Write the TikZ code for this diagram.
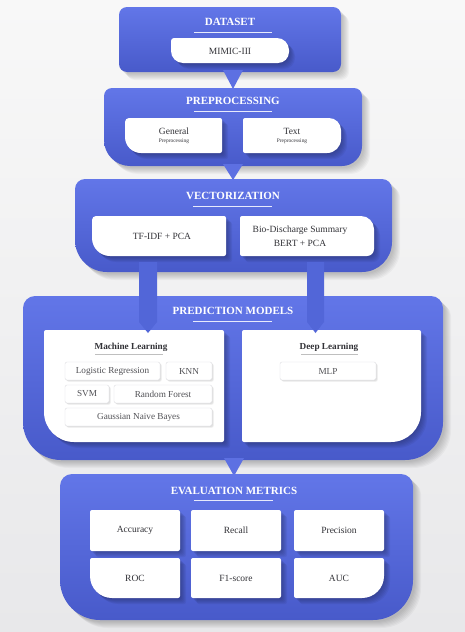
\documentclass[tikz,border=0pt]{standalone}
\usepackage{fontspec}
\setmainfont{Liberation Serif}
\definecolor{bgA}{RGB}{248,248,248}
\definecolor{bgB}{RGB}{232,232,234}
\definecolor{blueT}{RGB}{98,118,232}
\definecolor{blueB}{RGB}{72,90,202}
\definecolor{bar}{RGB}{82,102,216}
\definecolor{txt}{RGB}{50,50,55}
\definecolor{edge}{RGB}{222,222,226}
% #1 style, #2 x1, #3 y1, #4 x2, #5 y2, #6 rTL, #7 rTR, #8 rBR, #9 rBL
\newcommand\rshape[9]{%
  \path[#1] ({#2+#6},{#3}) -- ({#4-#7},{#3})
    .. controls ({#4-0.448*#7},{#3}) and ({#4},{#3+0.448*#7}) .. ({#4},{#3+#7})
    -- ({#4},{#5-#8})
    .. controls ({#4},{#5-0.448*#8}) and ({#4-0.448*#8},{#5}) .. ({#4-#8},{#5})
    -- ({#2+#9},{#5})
    .. controls ({#2+0.448*#9},{#5}) and ({#2},{#5-0.448*#9}) .. ({#2},{#5-#9})
    -- ({#2},{#3+#6})
    .. controls ({#2},{#3+0.448*#6}) and ({#2+0.448*#6},{#3}) .. cycle;}
\newcommand\shpanel[8]{%
  \foreach \k in {1,...,7}{%
    \rshape{fill=black, fill opacity=0.03, shift={(\k+1,\k+1)}}{#1}{#2}{#3}{#4}{#5}{#6}{#7}{#8}}%
  \rshape{panel}{#1}{#2}{#3}{#4}{#5}{#6}{#7}{#8}}
\newcommand\shcard[8]{%
  \foreach \k in {1,...,6}{%
    \rshape{fill=black!70!blueB, fill opacity=0.07, shift={(\k,\k)}}{#1}{#2}{#3}{#4}{#5}{#6}{#7}{#8}}%
  \rshape{card}{#1}{#2}{#3}{#4}{#5}{#6}{#7}{#8}}
\newcommand\shchip[4]{%
  \foreach \k in {0.6,1.2,1.8}{%
    \rshape{fill=black, fill opacity=0.05, shift={(\k,\k)}}{#1}{#2}{#3}{#4}{2}{2}{2}{2}}%
  \rshape{chip}{#1}{#2}{#3}{#4}{2}{2}{2}{2}}
\tikzset{
  panel/.style={top color=blueT, bottom color=blueB},
  card/.style={fill=white},
  chip/.style={fill=white, draw=edge, line width=0.4pt},
  title/.style={text=white, font=\fontsize{11}{12}\selectfont\bfseries},
  uline/.style={draw=white!85!blueT, line width=0.9pt},
  label/.style={text=txt, font=\fontsize{9.5}{10}\selectfont, align=center},
  small/.style={text=txt, font=\fontsize{5.4}{6}\selectfont},
  sub/.style={text=txt, font=\fontsize{9.2}{10}\selectfont\bfseries},
  subline/.style={draw=gray!50, line width=0.6pt},
  chiptxt/.style={text=txt!85!white, font=\fontsize{9.2}{10}\selectfont},
  arrowfill/.style={fill=blueT!80!blueB},
  barfill/.style={fill=bar},
}
\begin{document}
\begin{tikzpicture}[x=1pt,y=-1pt]
\useasboundingbox (0,0) rectangle (465,632);
\fill[top color=bgA, bottom color=bgB] (0,0) rectangle (465,632);

% ---------- connector coordinates ----------
\coordinate (t1a) at (223,70); \coordinate (t1b) at (243,70); \coordinate (t1c) at (233,89);
\coordinate (t2a) at (223,164); \coordinate (t2b) at (243,164); \coordinate (t2c) at (233,180);
\coordinate (t3a) at (224,458); \coordinate (t3b) at (244,458); \coordinate (t3c) at (234,476);
\coordinate (b1top) at (139,262); \coordinate (b1tip) at (148,333);
\coordinate (b2top) at (307,262); \coordinate (b2tip) at (315.5,333);

% ---------- panels ----------
\shpanel{119}{7}{341}{72}{8}{8}{8}{8}
\fill[arrowfill] (t1a) -- (t1b) -- (t1c) -- cycle;
\shpanel{104}{88}{362}{166}{8}{8}{20}{26}
\fill[arrowfill] (t2a) -- (t2b) -- (t2c) -- cycle;
\shpanel{75}{179}{392}{272}{10}{10}{30}{32}
\shpanel{23}{296}{443}{460}{12}{12}{38}{38}
\fill[arrowfill] (t3a) -- (t3b) -- (t3c) -- cycle;
\shpanel{60}{474}{413}{620}{12}{12}{40}{40}

% ---------- cards ----------
\shcard{171}{38}{289}{63}{3}{12}{11}{12}
\shcard{125}{118}{222}{153}{4}{2}{2}{16}
\shcard{243}{118}{341}{153}{2}{12}{14}{2}
\shcard{92}{216}{226}{256}{4}{2}{2}{18}
\shcard{240}{216}{374}{256}{2}{13}{7}{2}
\shcard{44}{330}{224}{442}{2}{2}{2}{30}
\shcard{242}{330}{421}{442}{2}{2}{30}{2}
% metrics
\shcard{90}{510}{180}{551}{2}{2}{2}{2}
\shcard{191}{510}{281}{551}{2}{2}{2}{2}
\shcard{294}{510}{384}{551}{2}{2}{2}{2}
\shcard{90}{558}{180}{598}{2}{2}{2}{22}
\shcard{191}{558}{281}{598}{2}{2}{2}{2}
\shcard{294}{558}{384}{598}{2}{2}{22}{2}

% bars from vectorization to prediction (drawn over the cards)
\fill[barfill] (b1top) -- (157,262) -- (157,322) -- (b1tip) -- (139,322) -- cycle;
\fill[barfill] (b2top) -- (324,262) -- (324,322) -- (b2tip) -- (307,322) -- cycle;

% chips
\shchip{65}{362}{160}{380}
\shchip{166}{362}{212}{380}
\shchip{65}{385}{109}{403}
\shchip{114}{385}{212}{403}
\shchip{65}{408}{212}{426}
\shchip{280}{362}{376}{380}

% ---------- titles ----------
\node[title] (tDS) at (230,22) {DATASET};
\draw[uline] (194,32) -- (272,32);
\node[title] (tPP) at (233,101) {PREPROCESSING};
\draw[uline] (194,111) -- (272,111);
\node[title] (tVC) at (233,196) {VECTORIZATION};
\draw[uline] (193,206) -- (272,206);
\node[title] (tPM) at (233,311) {PREDICTION MODELS};
\draw[uline] (193,321) -- (272,321);
\node[title] (tEM) at (234,491) {EVALUATION METRICS};
\draw[uline] (194,500) -- (273,500);

% ---------- card texts ----------
\node[label] (mimic) at (230,51) {MIMIC-III};
\node[label, inner sep=0pt] (gen) at (174,131) {General};
\node[small, inner sep=0pt] (genp) at (174,141) {Preprocessing};
\node[label, inner sep=0pt] (txt) at (292,131) {Text};
\node[small, inner sep=0pt] (txtp) at (292,141) {Preprocessing};
\node[label] (tfidf) at (162,236) {TF-IDF + PCA};
\node[label, inner sep=0pt] (bio1) at (300,230) {Bio-Discharge Summary};
\node[label, inner sep=0pt] (bio2) at (300,243) {BERT + PCA};

\node[sub] (ml) at (131,347) {Machine Learning};
\draw[subline] (95,354) -- (163,354);
\node[sub] (dl) at (329,347) {Deep Learning};
\draw[subline] (301,354) -- (358,354);

\node[chiptxt] (lr) at (112.5,371) {Logistic Regression};
\node[chiptxt] (knn) at (189,371) {KNN};
\node[chiptxt] (svm) at (87,394) {SVM};
\node[chiptxt] (rf) at (163,394) {Random Forest};
\node[chiptxt] (gnb) at (138.5,417) {Gaussian Naive Bayes};
\node[chiptxt] (mlp) at (328,371) {MLP};

\node[label] (acc) at (135,530.5) {Accuracy};
\node[label] (rec) at (236,530.5) {Recall};
\node[label] (pre) at (339,530.5) {Precision};
\node[label] (roc) at (135,578) {ROC};
\node[label] (f1) at (236,578) {F1-score};
\node[label] (auc) at (339,578) {AUC};
\end{tikzpicture}
\end{document}
